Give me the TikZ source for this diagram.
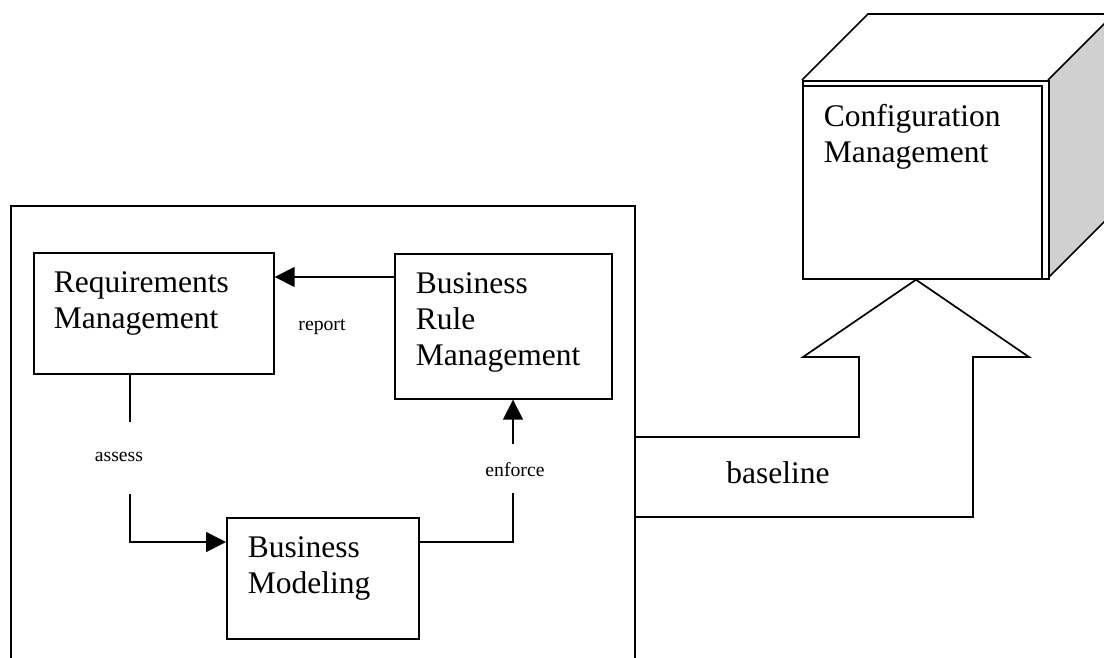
\documentclass[tikz,border=0pt]{standalone}
\usepackage{fontspec}
\setmainfont{Liberation Serif}
\usetikzlibrary{arrows.meta}
\definecolor{sidegray}{RGB}{208,208,208}
\begin{document}
\begin{tikzpicture}[x=1pt,y=-1pt,line width=1.7pt,
  box/.style={draw,rectangle,inner sep=0pt,anchor=north west},
  bigtext/.style={font=\fontsize{31.5}{36}\selectfont,inner sep=0pt,anchor=base west},
  smalltext/.style={font=\fontsize{19.7}{23}\selectfont,inner sep=0pt,anchor=base},
  arr/.style={-{Triangle[length=20pt,width=20pt]}}]
\useasboundingbox (0,0) rectangle (1104,657);
\clip (0,0) rectangle (1104,657);
\fill[white] (0,0) rectangle (1104,657);

% outer frame
\node[box,minimum width=624pt,minimum height=480pt] (outer) at (10,205) {};

% boxes
\node[box,minimum width=240pt,minimum height=121pt] (req) at (33,252) {};
\node[box,minimum width=217pt,minimum height=145pt] (brm) at (394,253) {};
\node[box,minimum width=192pt,minimum height=121pt] (bm) at (226,517) {};

% cube
\fill[sidegray] (1048,80) -- (1114,14) -- (1114,212) -- (1048,278) -- cycle;
\draw (1048,80) -- (1114,14) -- (1114,212) -- (1048,278);
\draw (802,80) -- (868,14) -- (1114,14);
\node[box,fill=white,minimum width=246pt,minimum height=198pt] (cm) at (802,80) {};
\draw (802,86) -- (1042,86) -- (1042,278);

% texts
\node[bigtext] (reqt) at (53,292) {\begin{tabular}[t]{@{}l@{}}Requirements\\Management\end{tabular}};
\node[bigtext] (brmt) at (415,293) {\begin{tabular}[t]{@{}l@{}}Business\\Rule\\Management\end{tabular}};
\node[bigtext] (bmt) at (247,557) {\begin{tabular}[t]{@{}l@{}}Business\\Modeling\end{tabular}};
\node[bigtext] (cmt) at (823,126) {\begin{tabular}[t]{@{}l@{}}Configuration\\Management\end{tabular}};
\node[bigtext,anchor=base] (blt) at (778,483) {baseline};

\node[smalltext] (rep) at (322,330) {report};
\node[smalltext] (ass) at (119,461) {assess};
\node[smalltext] (enf) at (515,476) {enforce};

% connectors
\draw[arr] (brm.west |- 0,277) -- (req.east |- 0,277);
\draw (req.south -| 130,0) -- (130,422);
\draw[arr] (130,494) |- (bm.west |- 0,542);
\draw (bm.east |- 0,542) -| (513,493);
\draw[arr] (513,444) -- (brm.south -| 513,0);

% baseline arrow
\draw[line join=miter] (outer.east |- 0,437) -- (859,437) -- (859,357) -- (803,357)
  -- (cm.south -| 916,0) -- (1029,357) -- (973,357) -- (973,517) -- (outer.east |- 0,517);
\end{tikzpicture}
\end{document}
